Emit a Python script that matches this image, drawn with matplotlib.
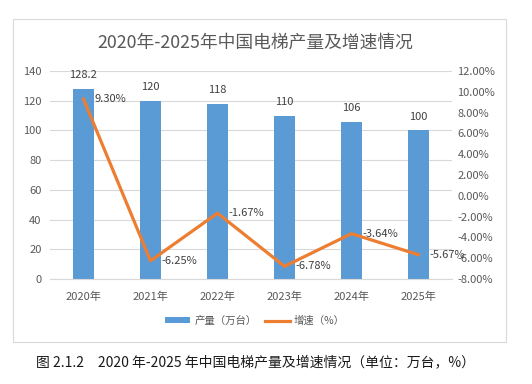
import numpy as np
import matplotlib.pyplot as plt
from matplotlib.patches import Rectangle

plt.rcParams['font.family'] = ['Noto Sans CJK SC', 'DejaVu Sans']

years = ['2020年', '2021年', '2022年', '2023年', '2024年', '2025年']
output = [128.2, 120, 118, 110, 106, 100]
growth = [9.30, -6.25, -1.67, -6.78, -3.64, -5.67]

blue = '#5B9BD5'
orange = '#ED7D31'
grey = '#595959'
fs = 8

fig = plt.figure(figsize=(5.32, 3.84), dpi=100)
fig.patches.append(Rectangle((13/532, 1-342/384), 493/532, 323/384,
                             transform=fig.transFigure, fill=False,
                             edgecolor='#D9D9D9', lw=0.8))

ax = fig.add_axes([50/532, 1-279/384, 402/532, 208/384])
x = np.arange(len(years))
ax.bar(x, output, width=0.31, color=blue, label='产量（万台）', zorder=2)
ax.set_xlim(-0.5, 5.5)
ax.set_ylim(0, 140)
ax.set_yticks(range(0, 141, 20))
ax.set_xticks(x)
ax.set_xticklabels(years)
ax.grid(axis='y', color='#D9D9D9', lw=0.8, zorder=0)
for s in ['top', 'right', 'left']:
    ax.spines[s].set_visible(False)
ax.spines['bottom'].set_color('#D9D9D9')
ax.tick_params(axis='y', length=0, labelsize=fs, labelcolor=grey, pad=6)
ax.tick_params(axis='x', length=0, labelsize=fs, labelcolor=grey, pad=9)
for i, v in enumerate(output):
    ax.text(i, v + 6, f'{v:g}', ha='center', va='bottom', fontsize=fs, color='#404040')

ax2 = ax.twinx()
ax2.plot(x, growth, color=orange, lw=2.3, label='增速（%）', zorder=3)
ax2.set_ylim(-8, 12)
ax2.set_yticks(range(-8, 13, 2))
ax2.set_yticklabels([f'{t:.2f}%' for t in range(-8, 13, 2)])
for s in ax2.spines.values():
    s.set_visible(False)
ax2.tick_params(length=0, labelsize=fs, labelcolor=grey, pad=4)
for i, v in enumerate(growth):
    ax2.text(i + 0.17, v, f'{v:.2f}%', ha='left', va='center', fontsize=fs, color='#404040')

h1, l1 = ax.get_legend_handles_labels()
h2, l2 = ax2.get_legend_handles_labels()
fig.legend(h1 + h2, l1 + l2, loc='center', bbox_to_anchor=(255/532, 1-321/384),
           ncol=2, frameon=False, fontsize=7.5, labelcolor=grey,
           handlelength=2.4, handleheight=0.5, columnspacing=0.8, handletextpad=0.4)

fig.text(255/532, 1-43/384, '2020年-2025年中国电梯产量及增速情况', ha='center', va='center',
         fontsize=12.8, color=grey)
fig.text(255/532, 1-362/384, '图 2.1.2　2020 年-2025 年中国电梯产量及增速情况（单位：万台，%）',
         ha='center', va='center', fontsize=10, color='#1a1a1a')

fig.savefig('out.png', dpi=100)
